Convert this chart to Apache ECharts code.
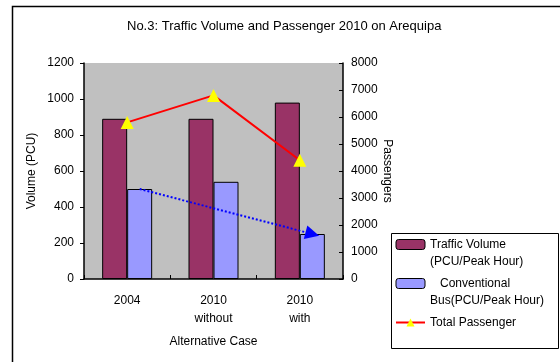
<!DOCTYPE html>
<html><head><meta charset="utf-8">
<script src="https://cdn.jsdelivr.net/npm/echarts@6/dist/echarts.min.js"></script>
<style>html,body{margin:0;padding:0;background:#fff}#chart{width:560px;height:362px}</style>
</head><body><div id="chart"></div>
<script>
// Alternative cases and their values
const categories = ['2004', '2010\nwithout', '2010\nwith'];
const trafficVolume = [890, 890, 980];     // PCU / peak hour
const busVolume = [500, 540, 250];         // PCU / peak hour
const totalPassenger = [5800, 6800, 4400]; // passengers
const seriesNames = ['Traffic Volume\n(PCU/Peak Hour)', '   Conventional\nBus(PCU/Peak Hour)', 'Total Passenger'];

const FONT = 'Liberation Sans';
const plain = v => String(v);
const chart = echarts.init(document.getElementById('chart'), null, {renderer: 'canvas'});

chart.setOption({
  animation: false,
  backgroundColor: '#ffffff',
  textStyle: {fontFamily: FONT, color: '#000'},
  title: {
    text: 'No.3: Traffic Volume and Passenger 2010 on Arequipa',
    left: 122, top: 15,
    textStyle: {fontFamily: FONT, fontSize: 13, fontWeight: 'normal', color: '#000'}
  },
  graphic: [
    {type: 'rect', left: 10, top: 4, z: -1, silent: true,
     shape: {width: 620, height: 420}, style: {fill: 'none', stroke: '#000', lineWidth: 1.5}},
    {type: 'rect', left: 391, top: 233, z: -1, silent: true,
     shape: {width: 167, height: 115}, style: {fill: '#fff', stroke: '#000', lineWidth: 1}}
  ],
  legend: {
    orient: 'vertical', left: 395, top: 219, padding: 0, itemGap: -12,
    itemWidth: 29, itemHeight: 10, itemStyle: {borderColor: '#000', borderWidth: 1},
    textStyle: {fontFamily: FONT, fontSize: 12, lineHeight: 17, color: '#000'},
    // an empty leading line keeps the first text line level with the key
    formatter: name => name.indexOf('\n') >= 0 ? '\n' + name : '\n' + name + '\n',
    data: [
      {name: seriesNames[0]},
      {name: seriesNames[1]},
      {name: seriesNames[2], itemStyle: {borderWidth: 0}}
    ]
  },
  grid: {left: 84, right: 217, top: 63, bottom: 83, show: true, backgroundColor: '#c0c0c0', borderWidth: 0},
  xAxis: {
    type: 'category', data: categories,
    name: 'Alternative Case', nameLocation: 'middle', nameGap: 57,
    nameTextStyle: {fontFamily: FONT, fontSize: 12, color: '#000'},
    axisLine: {lineStyle: {color: '#000', width: 1.5}},
    axisTick: {show: true, inside: true, length: 4, lineStyle: {color: '#000'}},
    axisLabel: {fontFamily: FONT, fontSize: 12, lineHeight: 18, margin: 13, color: '#000'}
  },
  yAxis: [
    {
      type: 'value', min: 0, max: 1200, interval: 200, position: 'left',
      name: 'Volume (PCU)', nameLocation: 'middle', nameGap: 46, nameRotate: 90,
      nameTextStyle: {fontFamily: FONT, fontSize: 12, color: '#000'},
      axisLine: {show: true, lineStyle: {color: '#000', width: 1.5}},
      axisTick: {show: true, inside: false, length: 4, lineStyle: {color: '#000'}},
      axisLabel: {fontFamily: FONT, fontSize: 12, margin: 10, color: '#000', formatter: plain},
      splitLine: {show: false}
    },
    {
      type: 'value', min: 0, max: 8000, interval: 1000, position: 'right',
      name: 'Passengers', nameLocation: 'middle', nameGap: 22, nameRotate: -90,
      nameTextStyle: {fontFamily: FONT, fontSize: 12, color: '#000'},
      axisLine: {show: true, lineStyle: {color: '#000', width: 1.5}},
      axisTick: {show: true, inside: true, length: 4, lineStyle: {color: '#000'}},
      axisLabel: {fontFamily: FONT, fontSize: 12, margin: 8, color: '#000', formatter: plain},
      splitLine: {show: false}
    }
  ],
  series: [
    {
      name: seriesNames[0], type: 'bar', data: trafficVolume,
      barWidth: 25, barGap: '0%',
      itemStyle: {color: '#993366', borderColor: '#000', borderWidth: 1}
    },
    {
      name: seriesNames[1], type: 'bar', data: busVolume,
      barWidth: 25, barGap: '0%',
      itemStyle: {color: '#9999ff', borderColor: '#000', borderWidth: 1},
      markLine: {
        silent: true, animation: false,
        symbol: ['none', 'triangle'], symbolSize: 14,
        label: {show: false},
        itemStyle: {color: '#0000ff'},
        lineStyle: {color: '#0000ff', type: 'dotted', width: 2},
        data: [[
          {coord: [0, busVolume[0]]},
          {coord: [2, busVolume[2]]}
        ]]
      }
    },
    {
      name: seriesNames[2], type: 'line', yAxisIndex: 1, data: totalPassenger,
      symbol: 'triangle', symbolSize: 13,
      lineStyle: {color: '#ff0000', width: 2},
      itemStyle: {color: '#ffff00', borderWidth: 0},
      z: 5
    }
  ]
});
</script>
</body></html>
